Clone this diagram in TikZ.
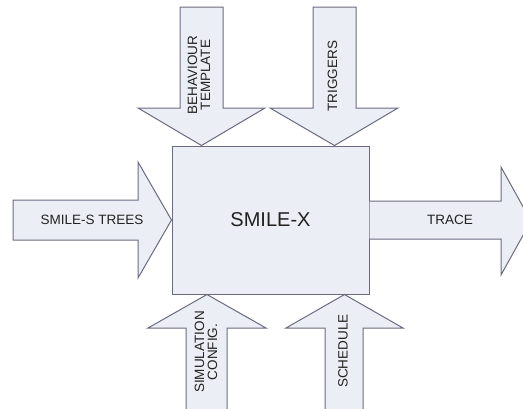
\documentclass[tikz,border=0pt]{standalone}
\usepackage{fontspec}
\setmainfont{Liberation Sans}
\usepackage{xcolor}
\usepackage{tikz}
\usetikzlibrary{positioning}

\definecolor{blockfill}{HTML}{ECEEF5}
\definecolor{blockline}{HTML}{6B6B80}
\definecolor{labeltext}{HTML}{222222}

\tikzset{every picture/.style={font issue=\fontsize{13.5}{13}},
         font issue/.style={execute at begin picture={#1\selectfont}},
         block/.style={draw=blockline, fill=blockfill, line width=1pt, line join=miter},
         label/.style={text=labeltext, inner sep=0pt, align=center},
         uplabel/.style={label, rotate=90}
        }

\begin{document}
\begin{tikzpicture}[x=1pt, y=-1pt]
\useasboundingbox (0,0) rectangle (523,408);

%Centre block
\node[block, minimum width=197pt, minimum height=148pt, text=labeltext,
      font=\fontsize{20}{22}\selectfont] (smilex) at (270.5,220) {SMILE-X};

%Inputs from above
\draw[block] (180,7) -- (223,7) -- (223,108) -- (265,108) -- (smilex.north -| 201.5,0)
  -- (138,108) -- (180,108) -- cycle;
\draw[block] (313,7) -- (356,7) -- (356,108) -- (398,108) -- (smilex.north -| 334.5,0)
  -- (270,108) -- (313,108) -- cycle;

\node[uplabel] (behaviour) at (199,75) {BEHAVIOUR\\TEMPLATE};
\node[uplabel] (triggers) at (332.5,76) {TRIGGERS};

%Input from the left
\draw[block] (13,200) -- (138,200) -- (138,162) -- (smilex.west) -- (138,278)
  -- (138,240) -- (13,240) -- cycle;
\node[label] (trees) at (92,220) {SMILE-S TREES};

%Output to the right
\draw[block] (smilex.east |- 0,201) -- (501,201) -- (501,167) -- (531,221) -- (501,275)
  -- (501,239) -- (smilex.east |- 0,239);
\node[label] (trace) at (450,220) {TRACE};

%Inputs from below
\draw[block] (186,415) -- (186,328) -- (148,328) -- (smilex.south -| 207,0)
  -- (266,328) -- (227,328) -- (227,415);
\draw[block] (325,415) -- (325,328) -- (286,328) -- (smilex.south -| 344.5,0)
  -- (403,328) -- (363,328) -- (363,415);

\node[uplabel] (simconfig) at (206,352) {SIMULATION\\CONFIG.};
\node[uplabel] (schedule) at (343,351) {SCHEDULE};
\end{tikzpicture}
\end{document}
